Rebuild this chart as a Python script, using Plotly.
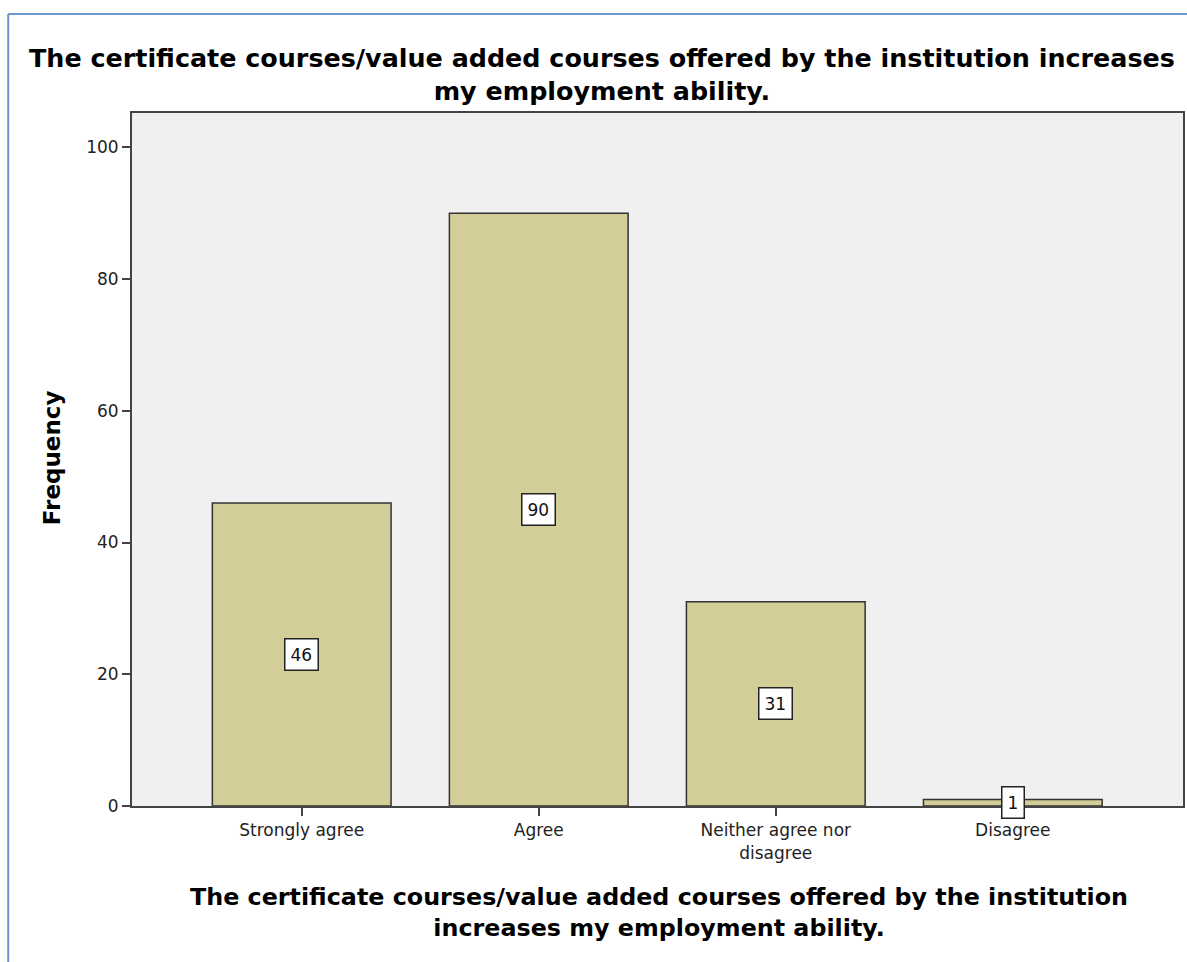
import plotly.graph_objects as go

categories = ["Strongly agree", "Agree", "Neither agree nor<br>disagree", "Disagree"]
frequencies = [46, 90, 31, 1]
y_ticks = [0, 20, 40, 60, 80, 100]

title_text = "The certificate courses/value added courses offered by the institution increases<br>my employment ability."
xtitle_text = "The certificate courses/value added courses offered by the institution<br>increases my employment ability."

W, H = 1187, 962
L, R, T, B = 132, 2, 113, 156
pw = W - L - R
ph = H - T - B

def px_to_paper_x(px):
    return (px - L) / pw

def px_to_paper_y(py):
    return (H - B - py) / ph

FONT = "DejaVu Sans, Verdana, sans-serif"

fig = go.Figure()
fig.add_trace(go.Bar(
    x=categories, y=frequencies,
    marker=dict(color="#d3ce97", line=dict(color="#333333", width=1.5)),
    width=0.754,
    hoverinfo="x+y",
))

annotations = []
for c, v in zip(categories, frequencies):
    annotations.append(dict(
        x=c, y=v / 2, xref="x", yref="y", text=str(v), showarrow=False,
        font=dict(family=FONT, size=17, color="#111111"),
        bgcolor="white", bordercolor="#222222", borderwidth=1.5, borderpad=5,
    ))

annotations.append(dict(
    x=px_to_paper_x(603), y=px_to_paper_y(74), xref="paper", yref="paper",
    text="<b>" + title_text + "</b>", showarrow=False, xanchor="center", yanchor="middle",
    font=dict(family=FONT, size=25.4, color="black"), align="center",
))
annotations.append(dict(
    x=px_to_paper_x(660), y=px_to_paper_y(912), xref="paper", yref="paper",
    text="<b>" + xtitle_text + "</b>", showarrow=False, xanchor="center", yanchor="middle",
    font=dict(family=FONT, size=23.8, color="black"), align="center",
))
annotations.append(dict(
    x=px_to_paper_x(52), y=px_to_paper_y(458), xref="paper", yref="paper",
    text="<b>Frequency</b>", showarrow=False, xanchor="center", yanchor="middle",
    textangle=-90, font=dict(family=FONT, size=23, color="black"),
))

frame_x = px_to_paper_x(8)
frame_top = px_to_paper_y(14)
shapes = [
    dict(type="line", xref="paper", yref="paper", x0=frame_x, x1=frame_x,
         y0=frame_top, y1=px_to_paper_y(H + 5), line=dict(color="#6a97d4", width=2)),
    dict(type="line", xref="paper", yref="paper", x0=frame_x, x1=px_to_paper_x(W + 5),
         y0=frame_top, y1=frame_top, line=dict(color="#6a97d4", width=2)),
]

fig.update_layout(
    width=W, height=H,
    margin=dict(l=L, r=R, t=T, b=B, pad=0),
    paper_bgcolor="white", plot_bgcolor="#f0f0f0",
    showlegend=False,
    annotations=annotations, shapes=shapes,
    font=dict(family=FONT, color="#222222"),
)
fig.update_xaxes(
    type="category", range=[-0.716, 3.718],
    showline=True, linecolor="#444444", linewidth=2, mirror=True,
    ticks="outside", ticklen=8, tickwidth=2, tickcolor="#444444",
    tickfont=dict(family=FONT, size=17, color="#222222"),
    showgrid=False,
)
fig.update_yaxes(
    range=[0, 105.2], tickvals=y_ticks,
    showline=True, linecolor="#444444", linewidth=2, mirror=True,
    ticks="outside", ticklen=8, tickwidth=2, tickcolor="#444444",
    tickfont=dict(family=FONT, size=17, color="#222222"),
    showgrid=False, zeroline=False,
)

fig.write_html(
    "out.html",
    config={"displayModeBar": False},
    post_script="document.body.style.margin='0';document.body.style.overflow='hidden';",
)
